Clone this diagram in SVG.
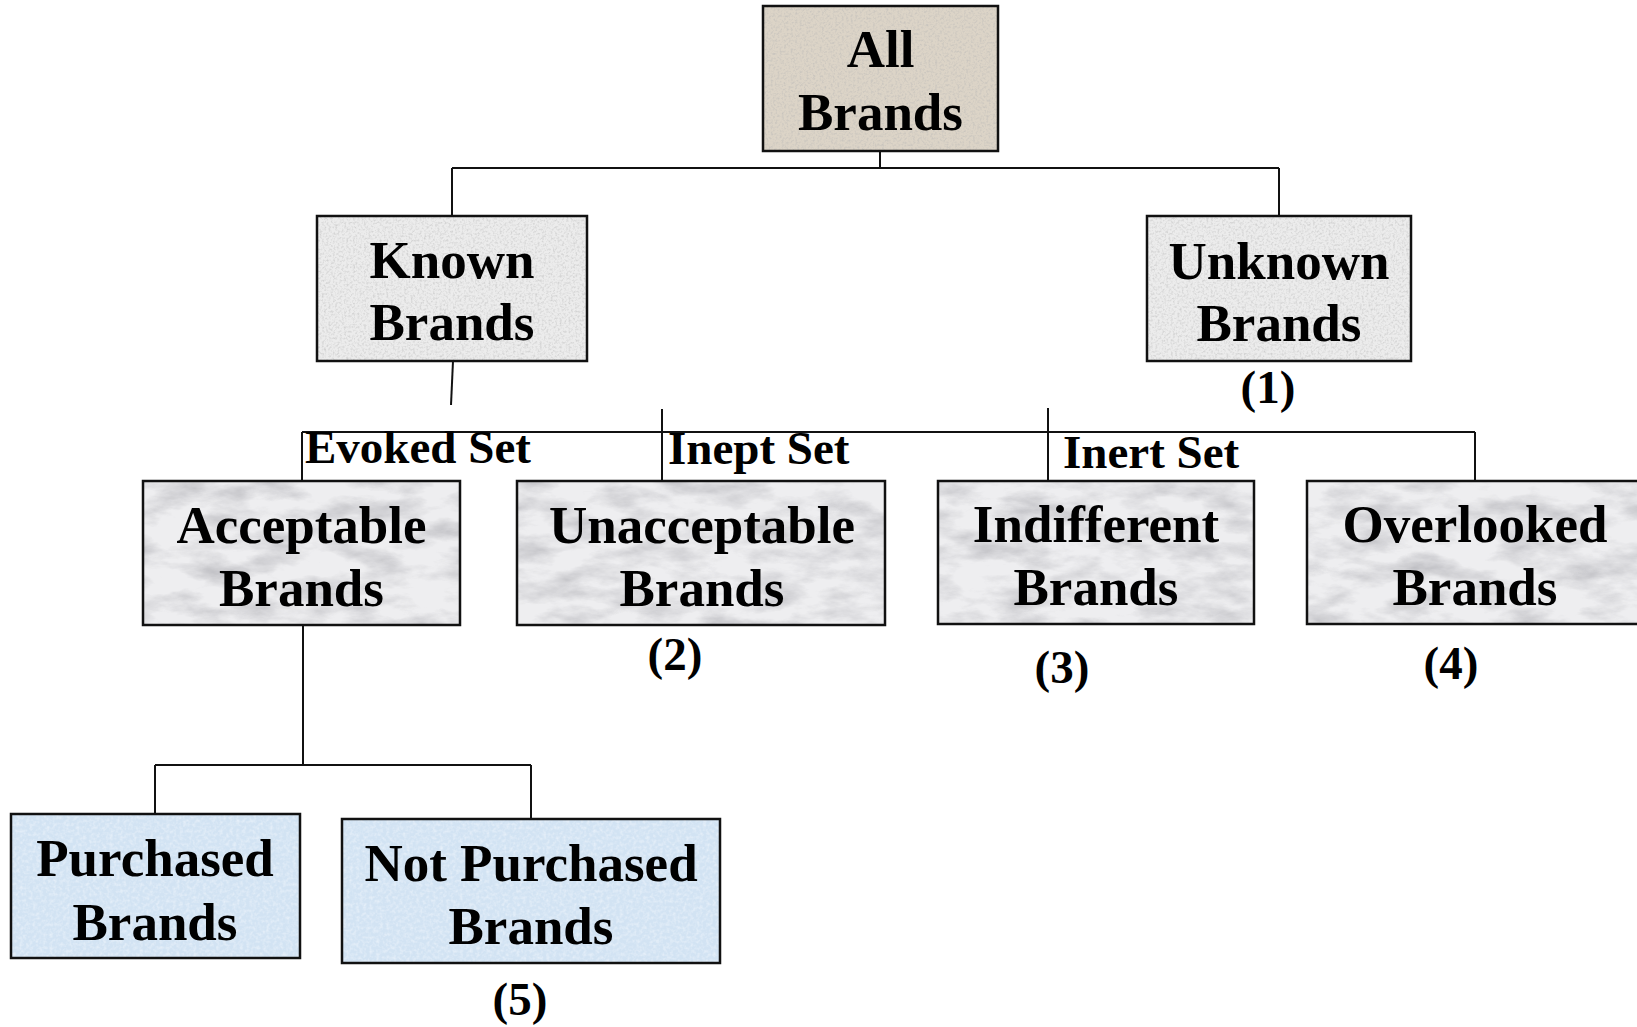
<svg xmlns="http://www.w3.org/2000/svg" width="1637" height="1027" viewBox="0 0 1637 1027">
<defs>
<style>
.box{stroke:#111;stroke-width:2.5}
.tex{stroke:none}
.nt{font-family:"Liberation Serif","Times New Roman",serif;font-weight:bold;font-size:53px;fill:#000;text-anchor:middle}
.lb{font-family:"Liberation Serif","Times New Roman",serif;font-weight:bold;font-size:47px;fill:#000}
.num{font-family:"Liberation Serif","Times New Roman",serif;font-weight:bold;font-size:47px;fill:#000;text-anchor:middle}
.ln{fill:none;stroke:#111;stroke-width:2}
</style>
<filter id="speck" x="0" y="0" width="100%" height="100%">
<feTurbulence type="fractalNoise" baseFrequency="0.45" numOctaves="2" seed="4"/>
<feColorMatrix type="matrix" values="0 0 0 0 0.45  0 0 0 0 0.45  0 0 0 0 0.45  -1.1 0 0 0 0.62"/>
<feComposite in2="SourceGraphic" operator="in"/>
</filter>
<filter id="marble" x="0" y="0" width="100%" height="100%">
<feTurbulence type="fractalNoise" baseFrequency="0.02 0.05" numOctaves="5" seed="7"/>
<feColorMatrix type="matrix" values="0 0 0 0 0.4  0 0 0 0 0.4  0 0 0 0 0.43  -1.3 0 0 0 0.78"/>
<feComposite in2="SourceGraphic" operator="in"/>
</filter>
<filter id="blueSpeck" x="0" y="0" width="100%" height="100%">
<feTurbulence type="fractalNoise" baseFrequency="0.3" numOctaves="2" seed="2"/>
<feColorMatrix type="matrix" values="0 0 0 0 0.95  0 0 0 0 0.97  0 0 0 0 1  -1.0 0 0 0 0.6"/>
<feComposite in2="SourceGraphic" operator="in"/>
</filter>
</defs>
<rect width="1637" height="1027" fill="#fff"/>

<g id="connectors">
<path class="ln" d="M880,151 V168"/>
<path class="ln" d="M452,168 H1279"/>
<path class="ln" d="M452,168 V216"/>
<path class="ln" d="M1279,168 V216"/>
<path class="ln" d="M453,361 L451,405"/>
<path class="ln" d="M302,432 H1475"/>
<path class="ln" d="M302,432 V481"/>
<path class="ln" d="M662,409 V481"/>
<path class="ln" d="M1048,408 V481"/>
<path class="ln" d="M1475,432 V481"/>
<path class="ln" d="M303,625 V765"/>
<path class="ln" d="M155,765 H531"/>
<path class="ln" d="M155,765 V814"/>
<path class="ln" d="M531,765 V819"/>
</g>

<g id="labels">
<text class="lb" x="305" y="463">Evoked Set</text>
<text class="lb" x="668" y="464">Inept Set</text>
<text class="lb" x="1063" y="468">Inert Set</text>
</g>

<g id="all-brands">
<rect x="763" y="6" width="235" height="145" fill="#dcd4c7"/>
<rect class="tex" x="763" y="6" width="235" height="145" fill="#000" filter="url(#speck)"/>
<rect class="box" x="763" y="6" width="235" height="145" fill="none"/>
<text class="nt" x="880.5" y="67">All</text>
<text class="nt" x="880.5" y="130">Brands</text>
</g>

<g id="known-brands">
<rect x="317" y="216" width="270" height="145" fill="#ececec"/>
<rect class="tex" x="317" y="216" width="270" height="145" fill="#000" filter="url(#speck)"/>
<rect class="box" x="317" y="216" width="270" height="145" fill="none"/>
<text class="nt" x="452" y="278">Known</text>
<text class="nt" x="452" y="340">Brands</text>
</g>

<g id="unknown-brands">
<rect x="1147" y="216" width="264" height="145" fill="#ececec"/>
<rect class="tex" x="1147" y="216" width="264" height="145" fill="#000" filter="url(#speck)"/>
<rect class="box" x="1147" y="216" width="264" height="145" fill="none"/>
<text class="nt" x="1279" y="279">Unknown</text>
<text class="nt" x="1279" y="341">Brands</text>
<text class="num" x="1268" y="403">(1)</text>
</g>

<g id="acceptable-brands">
<rect x="143" y="481" width="317" height="144" fill="#eeeef0"/>
<rect class="tex" x="143" y="481" width="317" height="144" fill="#000" filter="url(#marble)"/>
<rect class="box" x="143" y="481" width="317" height="144" fill="none"/>
<text class="nt" x="301.5" y="543">Acceptable</text>
<text class="nt" x="301.5" y="606">Brands</text>
</g>

<g id="unacceptable-brands">
<rect x="517" y="481" width="368" height="144" fill="#eeeef0"/>
<rect class="tex" x="517" y="481" width="368" height="144" fill="#000" filter="url(#marble)"/>
<rect class="box" x="517" y="481" width="368" height="144" fill="none"/>
<text class="nt" x="702" y="543">Unacceptable</text>
<text class="nt" x="702" y="606">Brands</text>
<text class="num" x="675" y="670">(2)</text>
</g>

<g id="indifferent-brands">
<rect x="938" y="481" width="316" height="143" fill="#eeeef0"/>
<rect class="tex" x="938" y="481" width="316" height="143" fill="#000" filter="url(#marble)"/>
<rect class="box" x="938" y="481" width="316" height="143" fill="none"/>
<text class="nt" x="1096" y="542">Indifferent</text>
<text class="nt" x="1096" y="605">Brands</text>
<text class="num" x="1062" y="683">(3)</text>
</g>

<g id="overlooked-brands">
<rect x="1307" y="481" width="336" height="143" fill="#eeeef0"/>
<rect class="tex" x="1307" y="481" width="336" height="143" fill="#000" filter="url(#marble)"/>
<rect class="box" x="1307" y="481" width="336" height="143" fill="none"/>
<text class="nt" x="1475" y="542">Overlooked</text>
<text class="nt" x="1475" y="605">Brands</text>
<text class="num" x="1451" y="679">(4)</text>
</g>

<g id="purchased-brands">
<rect x="11" y="814" width="289" height="144" fill="#d2e3f3"/>
<rect class="tex" x="11" y="814" width="289" height="144" fill="#000" filter="url(#blueSpeck)"/>
<rect class="box" x="11" y="814" width="289" height="144" fill="none"/>
<text class="nt" x="155" y="876">Purchased</text>
<text class="nt" x="155" y="940">Brands</text>
</g>

<g id="not-purchased-brands">
<rect x="342" y="819" width="378" height="144" fill="#d2e3f3"/>
<rect class="tex" x="342" y="819" width="378" height="144" fill="#000" filter="url(#blueSpeck)"/>
<rect class="box" x="342" y="819" width="378" height="144" fill="none"/>
<text class="nt" x="531" y="881">Not Purchased</text>
<text class="nt" x="531" y="944">Brands</text>
<text class="num" x="520" y="1015">(5)</text>
</g>
</svg>
